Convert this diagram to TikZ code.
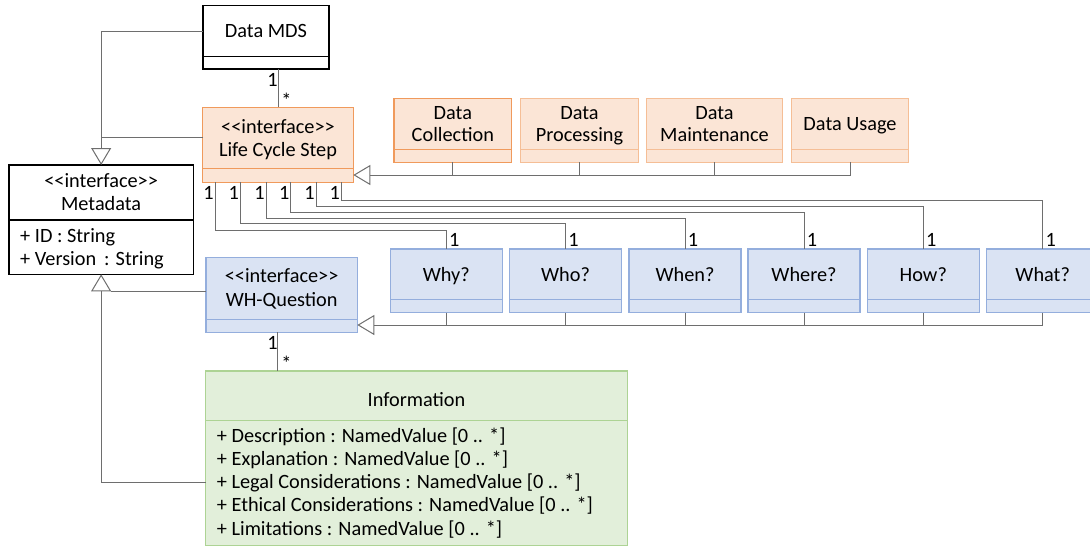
\documentclass[tikz,border=0pt]{standalone}
\usepackage{fontspec}
\setmainfont{Carlito}
\usetikzlibrary{arrows.meta}
\definecolor{cgrey}{HTML}{6E6E6E}
\definecolor{ofill}{HTML}{FBE5D6}
\definecolor{oline}{HTML}{F5BE96}
\definecolor{ostrong}{HTML}{F09A5C}
\definecolor{bfill}{HTML}{DAE3F3}
\definecolor{bline}{HTML}{94AEDD}
\definecolor{gfill}{HTML}{E2EFDA}
\definecolor{gline}{HTML}{ADD394}
\newcommand{\intf}{{<}{<}interface{>}{>}}
\begin{document}
\begin{tikzpicture}[x=1pt,y=-1pt,
  font=\fontsize{20.3}{24}\selectfont,
  box/.style={line width=1.3pt, inner sep=0pt, outer sep=0pt},
  kbox/.style={box, draw=black, fill=white},
  obox/.style={box, draw=oline, fill=ofill},
  osbox/.style={box, draw=ostrong, fill=ofill},
  bbox/.style={box, draw=bline, fill=bfill},
  gbox/.style={box, draw=gline, fill=gfill},
  conn/.style={draw=cgrey, line width=1pt},
  gen/.style={conn, -{Triangle[length=17pt, width=20pt, fill=white]}},
  txt/.style={inner sep=0pt, anchor=base},
  ltxt/.style={inner sep=0pt, anchor=base west},
  qsize/.style={minimum width=112pt, minimum height=63.7pt}
]
\useasboundingbox (0,0) rectangle (1090,547);

% ---------- boxes ----------
\node[kbox, minimum width=126pt, minimum height=63.3pt] (mds) at (266,37.35) {};
\draw[black, line width=1.3pt] (mds.west |- 0,56.7) -- (mds.east |- 0,56.7);
\node[txt] (mdst) at (266,37.5) {Data MDS};

\node[osbox, minimum width=150.6pt, minimum height=75pt] (lcs) at (278,144.8) {};
\draw[ostrong, line width=1.3pt] (lcs.west |- 0,168.3) -- (lcs.east |- 0,168.3);
\node[txt] (lcst1) at (278,133) {\intf};
\node[txt] (lcst2) at (278,156.7) {Life Cycle Step};

\node[osbox, minimum width=117.7pt, minimum height=64pt] (dc) at (452.85,130.3) {};
\draw[ostrong, line width=1.3pt] (dc.west |- 0,149.7) -- (dc.east |- 0,149.7);
\node[txt] (dct1) at (452.85,119) {Data};
\node[txt] (dct2) at (452.85,141) {Collection};

\node[obox, minimum width=117.6pt, minimum height=64pt] (dp) at (579.5,130.3) {};
\draw[oline, line width=1.3pt] (dp.west |- 0,149.7) -- (dp.east |- 0,149.7);
\node[txt] (dpt1) at (579.5,119) {Data};
\node[txt] (dpt2) at (579.5,141) {Processing};

\node[obox, minimum width=135.6pt, minimum height=64pt] (dm) at (714.5,130.3) {};
\draw[oline, line width=1.3pt] (dm.west |- 0,149.7) -- (dm.east |- 0,149.7);
\node[txt] (dmt1) at (714.5,119) {Data};
\node[txt] (dmt2) at (714.5,141) {Maintenance};

\node[obox, minimum width=116.6pt, minimum height=64pt] (du) at (850,130.3) {};
\draw[oline, line width=1.3pt] (du.west |- 0,149.7) -- (du.east |- 0,149.7);
\node[txt] (dut) at (850,130) {Data Usage};

\node[kbox, minimum width=184.3pt, minimum height=109.3pt] (meta) at (101.15,219.65) {};
\draw[black, line width=1.3pt] (meta.west |- 0,220) -- (meta.east |- 0,220);
\node[txt] (metat1) at (101.15,187.5) {\intf};
\node[txt] (metat2) at (101.15,210.7) {Metadata};
\node[ltxt] (metaa1) at (20,242.7) {+ ID : String};
\node[ltxt] (metaa2) at (20,265.3) {+ Version\, : String};

\node[bbox, minimum width=151.3pt, minimum height=74.6pt] (wh) at (281.65,295) {};
\draw[bline, line width=1.3pt] (wh.west |- 0,319.3) -- (wh.east |- 0,319.3);
\node[txt] (wht1) at (281.65,282) {\intf};
\node[txt] (wht2) at (281.65,306) {WH-Question};

\foreach \n/\x/\t in {why/446.3/Why?, who/565.5/Who?, when/685/When?, where/804/Where?, how/923.3/How?, what/1042.7/What?}{
  \node[bbox, qsize] (\n) at (\x,280.85) {};
  \draw[bline, line width=1.3pt] (\n.west |- 0,299.3) -- (\n.east |- 0,299.3);
  \node[txt] (\n t) at (\x,281.7) {\t};
}

\node[gbox, minimum width=421.6pt, minimum height=174.7pt] (info) at (416.5,458.35) {};
\draw[gline, line width=1.3pt] (info.west |- 0,420.3) -- (info.east |- 0,420.3);
\node[txt] (infot) at (416.5,406.7) {Information};
\node[ltxt] (ia1) at (216.7,442.7) {+ Description : NamedValue [0 .. *]};
\node[ltxt] (ia2) at (216.7,465.6) {+ Explanation : NamedValue [0 .. *]};
\node[ltxt] (ia3) at (216.7,488.6) {+ Legal Considerations : NamedValue [0 .. *]};
\node[ltxt] (ia4) at (216.7,511.7) {+ Ethical Considerations : NamedValue [0 .. *]};
\node[ltxt] (ia5) at (216.7,535) {+ Limitations : NamedValue [0 .. *]};

% ---------- generalizations ----------
\draw[gen] (mds.west |- 0,31.7) -| (meta.north);
\draw[conn] (lcs.west |- 0,137.7) -- (meta.north |- 0,137.7);

\draw[gen] (du.south) |- (lcs.east |- 0,175);
\foreach \n in {dc,dp,dm}{\draw[conn] (\n.south) -- (\n.south |- 0,175);}

\draw[gen] (what.south) |- (wh.east |- 0,325);
\foreach \n in {why,who,when,where,how}{\draw[conn] (\n.south) -- (\n.south |- 0,325);}

\draw[gen] (info.west |- 0,482.7) -| (meta.south);
\draw[conn] (wh.west |- 0,291) -- (111,291);

% ---------- associations ----------
\draw[conn] (lcs.north) -- (lcs.north |- mds.south);
\node[txt] (m1) at (272.5,86) {1};
\node[txt] (m2) at (286.5,107.5) {*};

\draw[conn] ([xshift=-4pt]wh.south) -- ([xshift=-4pt]wh.south |- info.north);
\node[txt] (w1) at (272.5,349) {1};
\node[txt] (w2) at (286.5,370.5) {*};

\foreach \n/\x/\y in {why/215/230.3, who/240.3/223.7, when/266/218.3, where/290.7/212, how/316/206, what/341.3/200}{
  \draw[conn] (lcs.south -| \x,0) |- (\n.north |- 0,\y) -- (\n.north);
  \node[txt] at (\x-6.5,199.5) {1};
  \node[txt] at ([xshift=8pt]\n.north |- 0,246.5) {1};
}
\end{tikzpicture}
\end{document}
